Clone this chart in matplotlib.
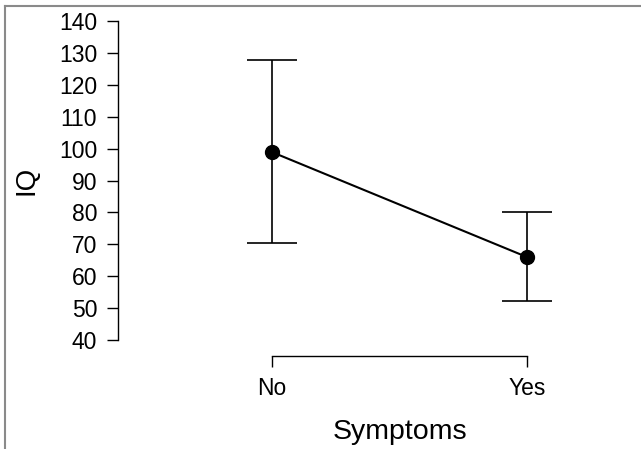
import matplotlib
matplotlib.use('Agg')
import matplotlib.pyplot as plt
from matplotlib.lines import Line2D

plt.rcParams['font.family'] = ['Liberation Sans', 'DejaVu Sans']

# descriptives plot: mean IQ with 95% CI per symptom group
groups = ['No', 'Yes']
means = [98.9, 66.0]
ci_lower = [70.4, 52.2]
ci_upper = [127.7, 80.1]

W, H = 641, 449
fig = plt.figure(figsize=(W / 100, H / 100), dpi=100)

# axes placed in pixel terms (data area: x 118..630, y 21..340)
ax = fig.add_axes([118 / W, 1 - 340 / H, (630 - 118) / W, (340 - 21) / H])

x = list(range(len(groups)))
err = [[m - lo for m, lo in zip(means, ci_lower)],
       [hi - m for m, hi in zip(means, ci_upper)]]
ax.errorbar(x, means, yerr=err, fmt='none', ecolor='black', elinewidth=1.2,
            capsize=18, capthick=1.2, zorder=2)
ax.plot(x, means, color='black', lw=1.5, marker='o', markersize=10, zorder=3)

ax.set_xlim(-(272 - 118) / 255, (630 - 272) / 255)
ax.set_ylim(40, 140)
ax.set_yticks(range(40, 141, 10))
ax.set_xticks(x)
ax.set_xticklabels(groups)

for s in ['top', 'right']:
    ax.spines[s].set_visible(False)
ax.spines['bottom'].set_position(('outward', 11.5))
ax.spines['bottom'].set_bounds(0, 1)
ax.spines['left'].set_bounds(40, 140)
for s in ['left', 'bottom']:
    ax.spines[s].set_linewidth(1.0)

ax.tick_params(axis='both', length=8, width=1.0, labelsize=16.5, colors='black')
ax.tick_params(axis='y', pad=7)
ax.tick_params(axis='x', pad=7)

ax.set_ylabel('IQ', fontsize=20, labelpad=14)
ax.set_xlabel('Symptoms', fontsize=20.5)
# x title sits centred under the categories, not under the whole axes
ax.xaxis.set_label_coords((400 - 118) / 512, -(432 - 340) / 319)
ax.xaxis.label.set_va('center')

# thin grey frame along the top and left edges
fig.add_artist(Line2D([5 / W, 1], [1 - 5.5 / H, 1 - 5.5 / H], transform=fig.transFigure,
                      color='#8a8a8a', lw=1.5))
fig.add_artist(Line2D([5 / W, 5 / W], [0, 1 - 5.5 / H], transform=fig.transFigure,
                      color='#8a8a8a', lw=1.5))

fig.savefig('out.png', dpi=100)
